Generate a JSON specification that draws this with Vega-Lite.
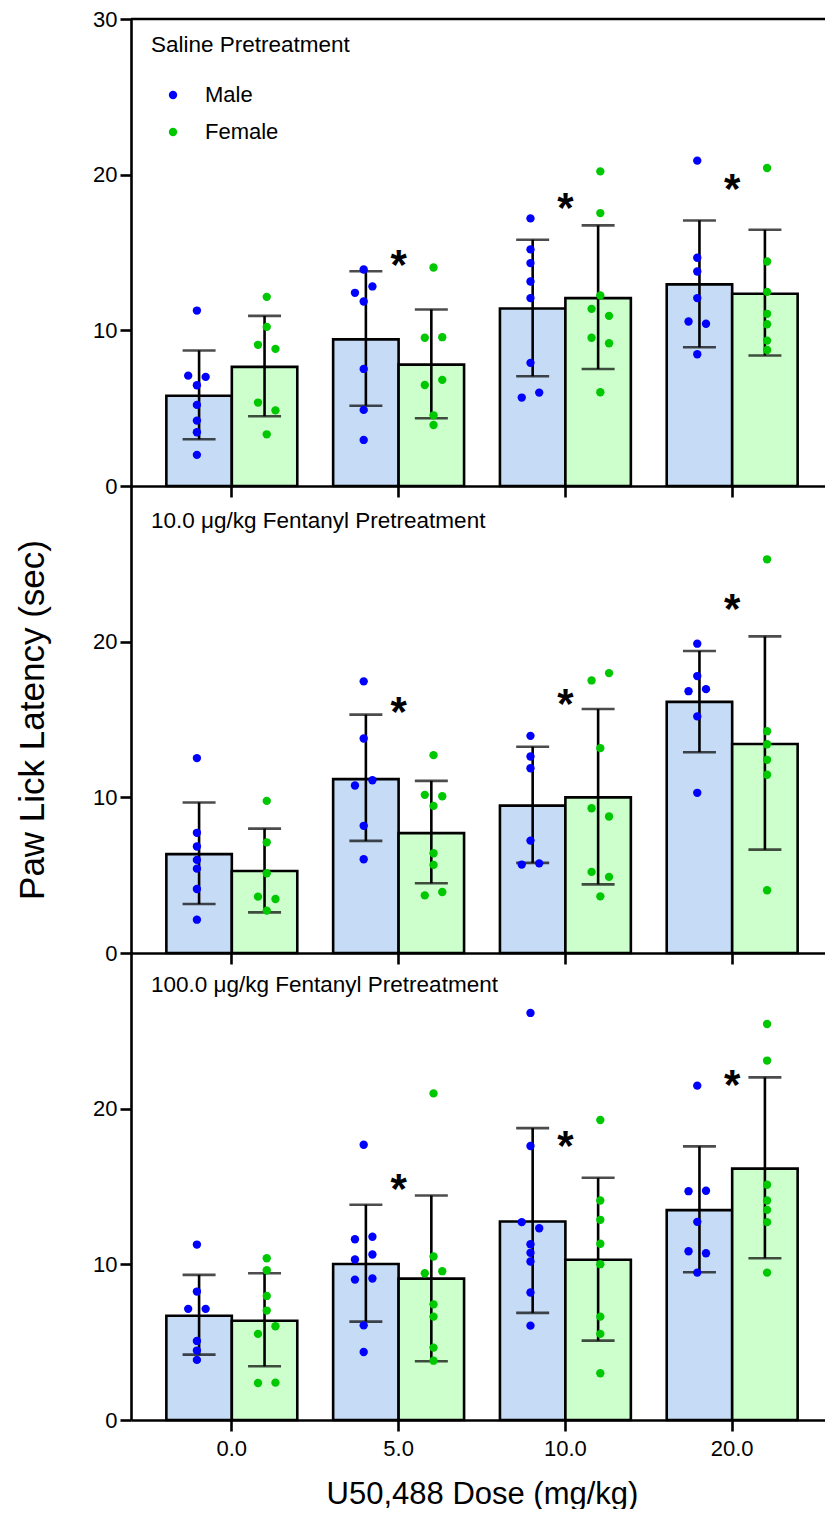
{
  "$schema": "https://vega.github.io/schema/vega-lite/v6.json",
  "background": "white",
  "padding": {"left": 15, "top": 8, "right": 0, "bottom": 0},
  "spacing": 0,
  "bounds": "flush",
  "config": {
    "font": "Liberation Sans",
    "view": {"stroke": null},
    "axis": {"domainColor": "black", "domainWidth": 2.6, "tickColor": "black", "tickWidth": 2.6, "tickSize": 11, "labelFontSize": 22, "labelColor": "black", "grid": false, "labelFont": "Liberation Sans", "titleFont": "Liberation Sans", "titleFontWeight": "normal", "titleColor": "black", "labelPadding": 3},
    "legend": {"labelFontSize": 22, "labelColor": "black", "labelFont": "Liberation Sans", "symbolType": "circle", "symbolSize": 70, "symbolStrokeWidth": 0, "labelOffset": 21, "rowPadding": 15},
    "title": {"font": "Liberation Sans", "fontWeight": "normal", "color": "black", "fontSize": 22.5, "anchor": "start", "frame": "group", "dx": 20}
  },
  "datasets": {
    "bars": [
      {"panel": "Saline", "dose": "0.0", "sex": "Male", "mean": 5.8, "lo": 3.0, "hi": 8.7},
      {"panel": "Saline", "dose": "0.0", "sex": "Female", "mean": 7.65, "lo": 4.48, "hi": 10.93},
      {"panel": "Saline", "dose": "5.0", "sex": "Male", "mean": 9.42, "lo": 5.16, "hi": 13.8},
      {"panel": "Saline", "dose": "5.0", "sex": "Female", "mean": 7.8, "lo": 4.35, "hi": 11.34},
      {"panel": "Saline", "dose": "10.0", "sex": "Male", "mean": 11.4, "lo": 7.05, "hi": 15.82},
      {"panel": "Saline", "dose": "10.0", "sex": "Female", "mean": 12.07, "lo": 7.52, "hi": 16.74},
      {"panel": "Saline", "dose": "20.0", "sex": "Male", "mean": 12.95, "lo": 8.91, "hi": 17.06},
      {"panel": "Saline", "dose": "20.0", "sex": "Female", "mean": 12.35, "lo": 8.38, "hi": 16.46},
      {"panel": "Fent10", "dose": "0.0", "sex": "Male", "mean": 6.35, "lo": 3.15, "hi": 9.67},
      {"panel": "Fent10", "dose": "0.0", "sex": "Female", "mean": 5.27, "lo": 2.61, "hi": 7.99},
      {"panel": "Fent10", "dose": "5.0", "sex": "Male", "mean": 11.17, "lo": 7.2, "hi": 15.31},
      {"panel": "Fent10", "dose": "5.0", "sex": "Female", "mean": 7.7, "lo": 4.48, "hi": 11.06},
      {"panel": "Fent10", "dose": "10.0", "sex": "Male", "mean": 9.47, "lo": 5.79, "hi": 13.25},
      {"panel": "Fent10", "dose": "10.0", "sex": "Female", "mean": 10.0, "lo": 4.41, "hi": 15.67},
      {"panel": "Fent10", "dose": "20.0", "sex": "Male", "mean": 16.13, "lo": 12.9, "hi": 19.4},
      {"panel": "Fent10", "dose": "20.0", "sex": "Female", "mean": 13.43, "lo": 6.64, "hi": 20.34},
      {"panel": "Fent100", "dose": "0.0", "sex": "Male", "mean": 6.7, "lo": 4.2, "hi": 9.32},
      {"panel": "Fent100", "dose": "0.0", "sex": "Female", "mean": 6.38, "lo": 3.45, "hi": 9.43},
      {"panel": "Fent100", "dose": "5.0", "sex": "Male", "mean": 10.02, "lo": 6.32, "hi": 13.83},
      {"panel": "Fent100", "dose": "5.0", "sex": "Female", "mean": 9.08, "lo": 3.77, "hi": 14.42},
      {"panel": "Fent100", "dose": "10.0", "sex": "Male", "mean": 12.75, "lo": 6.88, "hi": 18.75},
      {"panel": "Fent100", "dose": "10.0", "sex": "Female", "mean": 10.29, "lo": 5.1, "hi": 15.56},
      {"panel": "Fent100", "dose": "20.0", "sex": "Male", "mean": 13.48, "lo": 9.49, "hi": 17.58},
      {"panel": "Fent100", "dose": "20.0", "sex": "Female", "mean": 16.15, "lo": 10.39, "hi": 22.01}
    ],
    "points": [
      {"panel": "Saline", "dose": "0.0", "sex": "Male", "lane": "MC", "value": 11.27},
      {"panel": "Saline", "dose": "0.0", "sex": "Male", "lane": "ML", "value": 7.09},
      {"panel": "Saline", "dose": "0.0", "sex": "Male", "lane": "MR", "value": 7.01},
      {"panel": "Saline", "dose": "0.0", "sex": "Male", "lane": "MC", "value": 6.47},
      {"panel": "Saline", "dose": "0.0", "sex": "Male", "lane": "MC", "value": 5.21},
      {"panel": "Saline", "dose": "0.0", "sex": "Male", "lane": "MC", "value": 4.2},
      {"panel": "Saline", "dose": "0.0", "sex": "Male", "lane": "MC", "value": 3.45},
      {"panel": "Saline", "dose": "0.0", "sex": "Male", "lane": "MC", "value": 2.0},
      {"panel": "Saline", "dose": "0.0", "sex": "Female", "lane": "FC", "value": 12.15},
      {"panel": "Saline", "dose": "0.0", "sex": "Female", "lane": "FC", "value": 10.22},
      {"panel": "Saline", "dose": "0.0", "sex": "Female", "lane": "FL", "value": 9.07},
      {"panel": "Saline", "dose": "0.0", "sex": "Female", "lane": "FR", "value": 8.81},
      {"panel": "Saline", "dose": "0.0", "sex": "Female", "lane": "FL", "value": 5.36},
      {"panel": "Saline", "dose": "0.0", "sex": "Female", "lane": "FR", "value": 4.86},
      {"panel": "Saline", "dose": "0.0", "sex": "Female", "lane": "FC", "value": 3.32},
      {"panel": "Saline", "dose": "5.0", "sex": "Male", "lane": "MC", "value": 13.91},
      {"panel": "Saline", "dose": "5.0", "sex": "Male", "lane": "MR", "value": 12.82},
      {"panel": "Saline", "dose": "5.0", "sex": "Male", "lane": "ML", "value": 12.41},
      {"panel": "Saline", "dose": "5.0", "sex": "Male", "lane": "MC", "value": 11.85},
      {"panel": "Saline", "dose": "5.0", "sex": "Male", "lane": "MC", "value": 7.52},
      {"panel": "Saline", "dose": "5.0", "sex": "Male", "lane": "MC", "value": 4.89},
      {"panel": "Saline", "dose": "5.0", "sex": "Male", "lane": "MC", "value": 2.96},
      {"panel": "Saline", "dose": "5.0", "sex": "Female", "lane": "FC", "value": 14.04},
      {"panel": "Saline", "dose": "5.0", "sex": "Female", "lane": "FL", "value": 9.52},
      {"panel": "Saline", "dose": "5.0", "sex": "Female", "lane": "FR", "value": 9.56},
      {"panel": "Saline", "dose": "5.0", "sex": "Female", "lane": "FL", "value": 6.49},
      {"panel": "Saline", "dose": "5.0", "sex": "Female", "lane": "FR", "value": 6.82},
      {"panel": "Saline", "dose": "5.0", "sex": "Female", "lane": "FC", "value": 4.54},
      {"panel": "Saline", "dose": "5.0", "sex": "Female", "lane": "FC", "value": 3.92},
      {"panel": "Saline", "dose": "10.0", "sex": "Male", "lane": "MC", "value": 17.19},
      {"panel": "Saline", "dose": "10.0", "sex": "Male", "lane": "MC", "value": 15.2},
      {"panel": "Saline", "dose": "10.0", "sex": "Male", "lane": "MC", "value": 14.32},
      {"panel": "Saline", "dose": "10.0", "sex": "Male", "lane": "MC", "value": 13.14},
      {"panel": "Saline", "dose": "10.0", "sex": "Male", "lane": "MC", "value": 12.07},
      {"panel": "Saline", "dose": "10.0", "sex": "Male", "lane": "MC", "value": 7.91},
      {"panel": "Saline", "dose": "10.0", "sex": "Male", "lane": "MR", "value": 6.0},
      {"panel": "Saline", "dose": "10.0", "sex": "Male", "lane": "ML", "value": 5.68},
      {"panel": "Saline", "dose": "10.0", "sex": "Female", "lane": "FC", "value": 20.21},
      {"panel": "Saline", "dose": "10.0", "sex": "Female", "lane": "FC", "value": 17.53},
      {"panel": "Saline", "dose": "10.0", "sex": "Female", "lane": "FC", "value": 12.24},
      {"panel": "Saline", "dose": "10.0", "sex": "Female", "lane": "FL", "value": 11.38},
      {"panel": "Saline", "dose": "10.0", "sex": "Female", "lane": "FR", "value": 10.93},
      {"panel": "Saline", "dose": "10.0", "sex": "Female", "lane": "FL", "value": 9.52},
      {"panel": "Saline", "dose": "10.0", "sex": "Female", "lane": "FR", "value": 9.17},
      {"panel": "Saline", "dose": "10.0", "sex": "Female", "lane": "FC", "value": 6.02},
      {"panel": "Saline", "dose": "20.0", "sex": "Male", "lane": "MC", "value": 20.9},
      {"panel": "Saline", "dose": "20.0", "sex": "Male", "lane": "MC", "value": 14.66},
      {"panel": "Saline", "dose": "20.0", "sex": "Male", "lane": "MC", "value": 13.78},
      {"panel": "Saline", "dose": "20.0", "sex": "Male", "lane": "MC", "value": 12.07},
      {"panel": "Saline", "dose": "20.0", "sex": "Male", "lane": "ML", "value": 10.57},
      {"panel": "Saline", "dose": "20.0", "sex": "Male", "lane": "MR", "value": 10.42},
      {"panel": "Saline", "dose": "20.0", "sex": "Male", "lane": "MC", "value": 8.46},
      {"panel": "Saline", "dose": "20.0", "sex": "Female", "lane": "FC", "value": 20.43},
      {"panel": "Saline", "dose": "20.0", "sex": "Female", "lane": "FC", "value": 14.42},
      {"panel": "Saline", "dose": "20.0", "sex": "Female", "lane": "FC", "value": 12.47},
      {"panel": "Saline", "dose": "20.0", "sex": "Female", "lane": "FC", "value": 11.06},
      {"panel": "Saline", "dose": "20.0", "sex": "Female", "lane": "FC", "value": 10.39},
      {"panel": "Saline", "dose": "20.0", "sex": "Female", "lane": "FC", "value": 9.34},
      {"panel": "Saline", "dose": "20.0", "sex": "Female", "lane": "FC", "value": 8.74},
      {"panel": "Fent10", "dose": "0.0", "sex": "Male", "lane": "MC", "value": 12.52},
      {"panel": "Fent10", "dose": "0.0", "sex": "Male", "lane": "MC", "value": 7.72},
      {"panel": "Fent10", "dose": "0.0", "sex": "Male", "lane": "MC", "value": 6.84},
      {"panel": "Fent10", "dose": "0.0", "sex": "Male", "lane": "MC", "value": 5.98},
      {"panel": "Fent10", "dose": "0.0", "sex": "Male", "lane": "MC", "value": 5.42},
      {"panel": "Fent10", "dose": "0.0", "sex": "Male", "lane": "MC", "value": 4.11},
      {"panel": "Fent10", "dose": "0.0", "sex": "Male", "lane": "MC", "value": 2.14},
      {"panel": "Fent10", "dose": "0.0", "sex": "Female", "lane": "FC", "value": 9.77},
      {"panel": "Fent10", "dose": "0.0", "sex": "Female", "lane": "FC", "value": 7.11},
      {"panel": "Fent10", "dose": "0.0", "sex": "Female", "lane": "FC", "value": 5.12},
      {"panel": "Fent10", "dose": "0.0", "sex": "Female", "lane": "FL", "value": 3.62},
      {"panel": "Fent10", "dose": "0.0", "sex": "Female", "lane": "FR", "value": 3.47},
      {"panel": "Fent10", "dose": "0.0", "sex": "Female", "lane": "FC", "value": 2.72},
      {"panel": "Fent10", "dose": "5.0", "sex": "Male", "lane": "MC", "value": 17.45},
      {"panel": "Fent10", "dose": "5.0", "sex": "Male", "lane": "MC", "value": 13.78},
      {"panel": "Fent10", "dose": "5.0", "sex": "Male", "lane": "MR", "value": 11.1},
      {"panel": "Fent10", "dose": "5.0", "sex": "Male", "lane": "ML", "value": 10.76},
      {"panel": "Fent10", "dose": "5.0", "sex": "Male", "lane": "MC", "value": 8.17},
      {"panel": "Fent10", "dose": "5.0", "sex": "Male", "lane": "MC", "value": 6.02},
      {"panel": "Fent10", "dose": "5.0", "sex": "Female", "lane": "FC", "value": 12.71},
      {"panel": "Fent10", "dose": "5.0", "sex": "Female", "lane": "FL", "value": 10.16},
      {"panel": "Fent10", "dose": "5.0", "sex": "Female", "lane": "FR", "value": 10.07},
      {"panel": "Fent10", "dose": "5.0", "sex": "Female", "lane": "FC", "value": 9.45},
      {"panel": "Fent10", "dose": "5.0", "sex": "Female", "lane": "FC", "value": 6.41},
      {"panel": "Fent10", "dose": "5.0", "sex": "Female", "lane": "FC", "value": 5.66},
      {"panel": "Fent10", "dose": "5.0", "sex": "Female", "lane": "FL", "value": 3.7},
      {"panel": "Fent10", "dose": "5.0", "sex": "Female", "lane": "FR", "value": 3.92},
      {"panel": "Fent10", "dose": "10.0", "sex": "Male", "lane": "MC", "value": 13.95},
      {"panel": "Fent10", "dose": "10.0", "sex": "Male", "lane": "MC", "value": 12.62},
      {"panel": "Fent10", "dose": "10.0", "sex": "Male", "lane": "MC", "value": 11.87},
      {"panel": "Fent10", "dose": "10.0", "sex": "Male", "lane": "MC", "value": 7.22},
      {"panel": "Fent10", "dose": "10.0", "sex": "Male", "lane": "ML", "value": 5.68},
      {"panel": "Fent10", "dose": "10.0", "sex": "Male", "lane": "MR", "value": 5.76},
      {"panel": "Fent10", "dose": "10.0", "sex": "Female", "lane": "FL", "value": 17.51},
      {"panel": "Fent10", "dose": "10.0", "sex": "Female", "lane": "FR", "value": 17.98},
      {"panel": "Fent10", "dose": "10.0", "sex": "Female", "lane": "FC", "value": 13.16},
      {"panel": "Fent10", "dose": "10.0", "sex": "Female", "lane": "FL", "value": 9.3},
      {"panel": "Fent10", "dose": "10.0", "sex": "Female", "lane": "FR", "value": 8.77},
      {"panel": "Fent10", "dose": "10.0", "sex": "Female", "lane": "FL", "value": 5.21},
      {"panel": "Fent10", "dose": "10.0", "sex": "Female", "lane": "FR", "value": 4.89},
      {"panel": "Fent10", "dose": "10.0", "sex": "Female", "lane": "FC", "value": 3.64},
      {"panel": "Fent10", "dose": "20.0", "sex": "Male", "lane": "MC", "value": 19.87},
      {"panel": "Fent10", "dose": "20.0", "sex": "Male", "lane": "MC", "value": 17.79},
      {"panel": "Fent10", "dose": "20.0", "sex": "Male", "lane": "ML", "value": 16.82},
      {"panel": "Fent10", "dose": "20.0", "sex": "Male", "lane": "MR", "value": 16.95},
      {"panel": "Fent10", "dose": "20.0", "sex": "Male", "lane": "MC", "value": 15.2},
      {"panel": "Fent10", "dose": "20.0", "sex": "Male", "lane": "MC", "value": 10.29},
      {"panel": "Fent10", "dose": "20.0", "sex": "Female", "lane": "FC", "value": 25.29},
      {"panel": "Fent10", "dose": "20.0", "sex": "Female", "lane": "FC", "value": 14.25},
      {"panel": "Fent10", "dose": "20.0", "sex": "Female", "lane": "FC", "value": 13.41},
      {"panel": "Fent10", "dose": "20.0", "sex": "Female", "lane": "FC", "value": 12.41},
      {"panel": "Fent10", "dose": "20.0", "sex": "Female", "lane": "FC", "value": 11.45},
      {"panel": "Fent10", "dose": "20.0", "sex": "Female", "lane": "FC", "value": 4.03},
      {"panel": "Fent100", "dose": "0.0", "sex": "Male", "lane": "MC", "value": 11.27},
      {"panel": "Fent100", "dose": "0.0", "sex": "Male", "lane": "MC", "value": 8.25},
      {"panel": "Fent100", "dose": "0.0", "sex": "Male", "lane": "ML", "value": 7.14},
      {"panel": "Fent100", "dose": "0.0", "sex": "Male", "lane": "MR", "value": 7.14},
      {"panel": "Fent100", "dose": "0.0", "sex": "Male", "lane": "MC", "value": 5.08},
      {"panel": "Fent100", "dose": "0.0", "sex": "Male", "lane": "MC", "value": 4.46},
      {"panel": "Fent100", "dose": "0.0", "sex": "Male", "lane": "MC", "value": 3.86},
      {"panel": "Fent100", "dose": "0.0", "sex": "Female", "lane": "FC", "value": 10.39},
      {"panel": "Fent100", "dose": "0.0", "sex": "Female", "lane": "FC", "value": 9.62},
      {"panel": "Fent100", "dose": "0.0", "sex": "Female", "lane": "FC", "value": 7.97},
      {"panel": "Fent100", "dose": "0.0", "sex": "Female", "lane": "FC", "value": 7.03},
      {"panel": "Fent100", "dose": "0.0", "sex": "Female", "lane": "FR", "value": 6.02},
      {"panel": "Fent100", "dose": "0.0", "sex": "Female", "lane": "FL", "value": 5.53},
      {"panel": "Fent100", "dose": "0.0", "sex": "Female", "lane": "FL", "value": 2.38},
      {"panel": "Fent100", "dose": "0.0", "sex": "Female", "lane": "FR", "value": 2.4},
      {"panel": "Fent100", "dose": "5.0", "sex": "Male", "lane": "MC", "value": 17.68},
      {"panel": "Fent100", "dose": "5.0", "sex": "Male", "lane": "ML", "value": 11.61},
      {"panel": "Fent100", "dose": "5.0", "sex": "Male", "lane": "MR", "value": 11.77},
      {"panel": "Fent100", "dose": "5.0", "sex": "Male", "lane": "MR", "value": 10.63},
      {"panel": "Fent100", "dose": "5.0", "sex": "Male", "lane": "ML", "value": 10.31},
      {"panel": "Fent100", "dose": "5.0", "sex": "Male", "lane": "ML", "value": 9.02},
      {"panel": "Fent100", "dose": "5.0", "sex": "Male", "lane": "MR", "value": 9.09},
      {"panel": "Fent100", "dose": "5.0", "sex": "Male", "lane": "MC", "value": 6.08},
      {"panel": "Fent100", "dose": "5.0", "sex": "Male", "lane": "MC", "value": 4.37},
      {"panel": "Fent100", "dose": "5.0", "sex": "Female", "lane": "FC", "value": 20.98},
      {"panel": "Fent100", "dose": "5.0", "sex": "Female", "lane": "FC", "value": 10.5},
      {"panel": "Fent100", "dose": "5.0", "sex": "Female", "lane": "FL", "value": 9.43},
      {"panel": "Fent100", "dose": "5.0", "sex": "Female", "lane": "FR", "value": 9.56},
      {"panel": "Fent100", "dose": "5.0", "sex": "Female", "lane": "FC", "value": 7.43},
      {"panel": "Fent100", "dose": "5.0", "sex": "Female", "lane": "FC", "value": 6.64},
      {"panel": "Fent100", "dose": "5.0", "sex": "Female", "lane": "FC", "value": 4.65},
      {"panel": "Fent100", "dose": "5.0", "sex": "Female", "lane": "FC", "value": 3.81},
      {"panel": "Fent100", "dose": "10.0", "sex": "Male", "lane": "MC", "value": 26.15},
      {"panel": "Fent100", "dose": "10.0", "sex": "Male", "lane": "MC", "value": 17.6},
      {"panel": "Fent100", "dose": "10.0", "sex": "Male", "lane": "ML", "value": 12.71},
      {"panel": "Fent100", "dose": "10.0", "sex": "Male", "lane": "MR", "value": 12.32},
      {"panel": "Fent100", "dose": "10.0", "sex": "Male", "lane": "MC", "value": 11.29},
      {"panel": "Fent100", "dose": "10.0", "sex": "Male", "lane": "MC", "value": 10.74},
      {"panel": "Fent100", "dose": "10.0", "sex": "Male", "lane": "MC", "value": 10.18},
      {"panel": "Fent100", "dose": "10.0", "sex": "Male", "lane": "MC", "value": 8.19},
      {"panel": "Fent100", "dose": "10.0", "sex": "Male", "lane": "MC", "value": 6.06},
      {"panel": "Fent100", "dose": "10.0", "sex": "Female", "lane": "FC", "value": 19.27},
      {"panel": "Fent100", "dose": "10.0", "sex": "Female", "lane": "FC", "value": 14.1},
      {"panel": "Fent100", "dose": "10.0", "sex": "Female", "lane": "FC", "value": 12.86},
      {"panel": "Fent100", "dose": "10.0", "sex": "Female", "lane": "FC", "value": 11.32},
      {"panel": "Fent100", "dose": "10.0", "sex": "Female", "lane": "FC", "value": 10.01},
      {"panel": "Fent100", "dose": "10.0", "sex": "Female", "lane": "FC", "value": 6.64},
      {"panel": "Fent100", "dose": "10.0", "sex": "Female", "lane": "FC", "value": 5.53},
      {"panel": "Fent100", "dose": "10.0", "sex": "Female", "lane": "FC", "value": 3.0},
      {"panel": "Fent100", "dose": "20.0", "sex": "Male", "lane": "MC", "value": 21.48},
      {"panel": "Fent100", "dose": "20.0", "sex": "Male", "lane": "ML", "value": 14.7},
      {"panel": "Fent100", "dose": "20.0", "sex": "Male", "lane": "MR", "value": 14.73},
      {"panel": "Fent100", "dose": "20.0", "sex": "Male", "lane": "MC", "value": 12.73},
      {"panel": "Fent100", "dose": "20.0", "sex": "Male", "lane": "ML", "value": 10.84},
      {"panel": "Fent100", "dose": "20.0", "sex": "Male", "lane": "MR", "value": 10.71},
      {"panel": "Fent100", "dose": "20.0", "sex": "Male", "lane": "MC", "value": 9.47},
      {"panel": "Fent100", "dose": "20.0", "sex": "Female", "lane": "FC", "value": 25.44},
      {"panel": "Fent100", "dose": "20.0", "sex": "Female", "lane": "FC", "value": 23.09},
      {"panel": "Fent100", "dose": "20.0", "sex": "Female", "lane": "FC", "value": 15.11},
      {"panel": "Fent100", "dose": "20.0", "sex": "Female", "lane": "FC", "value": 14.1},
      {"panel": "Fent100", "dose": "20.0", "sex": "Female", "lane": "FC", "value": 13.5},
      {"panel": "Fent100", "dose": "20.0", "sex": "Female", "lane": "FC", "value": 12.71},
      {"panel": "Fent100", "dose": "20.0", "sex": "Female", "lane": "FC", "value": 9.47}
    ],
    "stars": [
      {"panel": "Saline", "dose": "5.0", "value": 14.6},
      {"panel": "Saline", "dose": "10.0", "value": 18.24},
      {"panel": "Saline", "dose": "20.0", "value": 19.46},
      {"panel": "Fent10", "dose": "5.0", "value": 15.84},
      {"panel": "Fent10", "dose": "10.0", "value": 16.35},
      {"panel": "Fent10", "dose": "20.0", "value": 22.51},
      {"panel": "Fent100", "dose": "5.0", "value": 15.22},
      {"panel": "Fent100", "dose": "10.0", "value": 17.96},
      {"panel": "Fent100", "dose": "20.0", "value": 21.93}
    ]
  },
  "vconcat": [
    {
      "width": 702, "height": 467,
      "title": {"text": "Saline Pretreatment", "offset": -48},
      "resolve": {"scale": {"xOffset": "independent"}},
      "layer": [
        {"data": {"values": [{"top": 30}]}, "mark": {"type": "rule", "color": "black", "strokeWidth": 2.6}, "encoding": {"y": {"field": "top", "type": "quantitative", "title": null, "scale": {"domain": [0, 30], "nice": false}}}},
        {"data": {"name": "bars"}, "transform": [{"filter": "datum.panel === 'Saline'"}], "mark": {"type": "bar", "stroke": "black", "strokeWidth": 2.6},
         "encoding": {
           "x": {"field": "dose", "type": "nominal", "sort": ["0.0", "5.0", "10.0", "20.0"], "scale": {"paddingInner": 0.215, "paddingOuter": 0.212}, "axis": {"labels": false, "title": null}},
           "xOffset": {"field": "sex", "type": "nominal", "sort": ["Male", "Female"], "scale": {"paddingInner": 0, "paddingOuter": 0}},
           "y": {"field": "mean", "type": "quantitative", "title": null, "scale": {"domain": [0, 30], "nice": false}, "axis": {"values": [0, 10, 20, 30]}},
           "fill": {"condition": {"test": "datum.sex === 'Female'", "value": "#ccffcc"}, "value": "#c6dbf5"}}},
        {"data": {"name": "bars"}, "transform": [{"filter": "datum.panel === 'Saline'"}], "mark": {"type": "rule", "color": "black", "strokeWidth": 2.6},
         "encoding": {
           "x": {"field": "dose", "type": "nominal", "sort": ["0.0", "5.0", "10.0", "20.0"]},
           "xOffset": {"field": "sex", "type": "nominal", "sort": ["Male", "Female"], "scale": {"paddingInner": 0, "paddingOuter": 0}},
           "y": {"field": "lo", "type": "quantitative", "title": null}, "y2": {"field": "hi"}}},
        {"data": {"name": "bars"}, "transform": [{"filter": "datum.panel === 'Saline'"}], "mark": {"type": "tick", "color": "black", "size": 33, "thickness": 2.6},
         "encoding": {
           "x": {"field": "dose", "type": "nominal", "sort": ["0.0", "5.0", "10.0", "20.0"]},
           "xOffset": {"field": "sex", "type": "nominal", "sort": ["Male", "Female"], "scale": {"paddingInner": 0, "paddingOuter": 0}},
           "y": {"field": "lo", "type": "quantitative", "title": null}}},
        {"data": {"name": "bars"}, "transform": [{"filter": "datum.panel === 'Saline'"}], "mark": {"type": "tick", "color": "black", "size": 33, "thickness": 2.6},
         "encoding": {
           "x": {"field": "dose", "type": "nominal", "sort": ["0.0", "5.0", "10.0", "20.0"]},
           "xOffset": {"field": "sex", "type": "nominal", "sort": ["Male", "Female"], "scale": {"paddingInner": 0, "paddingOuter": 0}},
           "y": {"field": "hi", "type": "quantitative", "title": null}}},
        {"data": {"name": "points"}, "transform": [{"filter": "datum.panel === 'Saline'"}], "mark": {"type": "circle", "size": 70, "opacity": 1},
         "encoding": {
           "x": {"field": "dose", "type": "nominal", "sort": ["0.0", "5.0", "10.0", "20.0"]},
           "xOffset": {"field": "lane", "type": "nominal", "scale": {"domain": ["s0", "s1", "ML", "MC", "MR", "s5", "s6", "s7", "s8", "s9", "FL", "FC", "FR", "s13", "s14"], "paddingInner": 0, "paddingOuter": 0.5}},
           "y": {"field": "value", "type": "quantitative", "title": null},
           "color": {"field": "sex", "type": "nominal", "scale": {"domain": ["Male", "Female"], "range": ["#0000ff", "#00c800"]},
             "legend": {"title": null, "orient": "none", "legendX": 31, "legendY": 65}}}},
        {"data": {"name": "stars"}, "transform": [{"filter": "datum.panel === 'Saline'"}], "mark": {"type": "text", "text": "*", "fontSize": 42, "fontWeight": "bold", "baseline": "alphabetic", "dy": 20, "color": "black"},
         "encoding": {
           "x": {"field": "dose", "type": "nominal", "sort": ["0.0", "5.0", "10.0", "20.0"]},
           "y": {"field": "value", "type": "quantitative", "title": null}}}
      ]
    },
    {
      "width": 702, "height": 467,
      "title": {"text": "10.0 μg/kg Fentanyl Pretreatment", "offset": -46},
      "resolve": {"scale": {"xOffset": "independent"}},
      "layer": [
        {"data": {"name": "bars"}, "transform": [{"filter": "datum.panel === 'Fent10'"}], "mark": {"type": "bar", "stroke": "black", "strokeWidth": 2.6},
         "encoding": {
           "x": {"field": "dose", "type": "nominal", "sort": ["0.0", "5.0", "10.0", "20.0"], "scale": {"paddingInner": 0.215, "paddingOuter": 0.212}, "axis": {"labels": false, "title": null}},
           "xOffset": {"field": "sex", "type": "nominal", "sort": ["Male", "Female"], "scale": {"paddingInner": 0, "paddingOuter": 0}},
           "y": {"field": "mean", "type": "quantitative", "title": "Paw Lick Latency (sec)", "scale": {"domain": [0, 30], "nice": false}, "axis": {"values": [0, 10, 20], "titleFontSize": 35, "titlePadding": 42}},
           "fill": {"condition": {"test": "datum.sex === 'Female'", "value": "#ccffcc"}, "value": "#c6dbf5"}}},
        {"data": {"name": "bars"}, "transform": [{"filter": "datum.panel === 'Fent10'"}], "mark": {"type": "rule", "color": "black", "strokeWidth": 2.6},
         "encoding": {
           "x": {"field": "dose", "type": "nominal", "sort": ["0.0", "5.0", "10.0", "20.0"]},
           "xOffset": {"field": "sex", "type": "nominal", "sort": ["Male", "Female"], "scale": {"paddingInner": 0, "paddingOuter": 0}},
           "y": {"field": "lo", "type": "quantitative", "title": "Paw Lick Latency (sec)"}, "y2": {"field": "hi"}}},
        {"data": {"name": "bars"}, "transform": [{"filter": "datum.panel === 'Fent10'"}], "mark": {"type": "tick", "color": "black", "size": 33, "thickness": 2.6},
         "encoding": {
           "x": {"field": "dose", "type": "nominal", "sort": ["0.0", "5.0", "10.0", "20.0"]},
           "xOffset": {"field": "sex", "type": "nominal", "sort": ["Male", "Female"], "scale": {"paddingInner": 0, "paddingOuter": 0}},
           "y": {"field": "lo", "type": "quantitative", "title": "Paw Lick Latency (sec)"}}},
        {"data": {"name": "bars"}, "transform": [{"filter": "datum.panel === 'Fent10'"}], "mark": {"type": "tick", "color": "black", "size": 33, "thickness": 2.6},
         "encoding": {
           "x": {"field": "dose", "type": "nominal", "sort": ["0.0", "5.0", "10.0", "20.0"]},
           "xOffset": {"field": "sex", "type": "nominal", "sort": ["Male", "Female"], "scale": {"paddingInner": 0, "paddingOuter": 0}},
           "y": {"field": "hi", "type": "quantitative", "title": "Paw Lick Latency (sec)"}}},
        {"data": {"name": "points"}, "transform": [{"filter": "datum.panel === 'Fent10'"}], "mark": {"type": "circle", "size": 70, "opacity": 1},
         "encoding": {
           "x": {"field": "dose", "type": "nominal", "sort": ["0.0", "5.0", "10.0", "20.0"]},
           "xOffset": {"field": "lane", "type": "nominal", "scale": {"domain": ["s0", "s1", "ML", "MC", "MR", "s5", "s6", "s7", "s8", "s9", "FL", "FC", "FR", "s13", "s14"], "paddingInner": 0, "paddingOuter": 0.5}},
           "y": {"field": "value", "type": "quantitative", "title": "Paw Lick Latency (sec)"},
           "color": {"condition": {"test": "datum.sex === 'Female'", "value": "#00c800"}, "value": "#0000ff"}}},
        {"data": {"name": "stars"}, "transform": [{"filter": "datum.panel === 'Fent10'"}], "mark": {"type": "text", "text": "*", "fontSize": 42, "fontWeight": "bold", "baseline": "alphabetic", "dy": 20, "color": "black"},
         "encoding": {
           "x": {"field": "dose", "type": "nominal", "sort": ["0.0", "5.0", "10.0", "20.0"]},
           "y": {"field": "value", "type": "quantitative", "title": "Paw Lick Latency (sec)"}}}
      ]
    },
    {
      "width": 702, "height": 467,
      "title": {"text": "100.0 μg/kg Fentanyl Pretreatment", "offset": -43},
      "resolve": {"scale": {"xOffset": "independent"}},
      "layer": [
        {"data": {"name": "bars"}, "transform": [{"filter": "datum.panel === 'Fent100'"}], "mark": {"type": "bar", "stroke": "black", "strokeWidth": 2.6},
         "encoding": {
           "x": {"field": "dose", "type": "nominal", "sort": ["0.0", "5.0", "10.0", "20.0"], "scale": {"paddingInner": 0.215, "paddingOuter": 0.212}, "axis": {"labelAngle": 0, "labelPadding": 7, "title": "U50,488 Dose (mg/kg)", "titleFontSize": 31, "titlePadding": 20}},
           "xOffset": {"field": "sex", "type": "nominal", "sort": ["Male", "Female"], "scale": {"paddingInner": 0, "paddingOuter": 0}},
           "y": {"field": "mean", "type": "quantitative", "title": null, "scale": {"domain": [0, 30], "nice": false}, "axis": {"values": [0, 10, 20]}},
           "fill": {"condition": {"test": "datum.sex === 'Female'", "value": "#ccffcc"}, "value": "#c6dbf5"}}},
        {"data": {"name": "bars"}, "transform": [{"filter": "datum.panel === 'Fent100'"}], "mark": {"type": "rule", "color": "black", "strokeWidth": 2.6},
         "encoding": {
           "x": {"field": "dose", "type": "nominal", "sort": ["0.0", "5.0", "10.0", "20.0"], "title": "U50,488 Dose (mg/kg)"},
           "xOffset": {"field": "sex", "type": "nominal", "sort": ["Male", "Female"], "scale": {"paddingInner": 0, "paddingOuter": 0}},
           "y": {"field": "lo", "type": "quantitative", "title": null}, "y2": {"field": "hi"}}},
        {"data": {"name": "bars"}, "transform": [{"filter": "datum.panel === 'Fent100'"}], "mark": {"type": "tick", "color": "black", "size": 33, "thickness": 2.6},
         "encoding": {
           "x": {"field": "dose", "type": "nominal", "sort": ["0.0", "5.0", "10.0", "20.0"], "title": "U50,488 Dose (mg/kg)"},
           "xOffset": {"field": "sex", "type": "nominal", "sort": ["Male", "Female"], "scale": {"paddingInner": 0, "paddingOuter": 0}},
           "y": {"field": "lo", "type": "quantitative", "title": null}}},
        {"data": {"name": "bars"}, "transform": [{"filter": "datum.panel === 'Fent100'"}], "mark": {"type": "tick", "color": "black", "size": 33, "thickness": 2.6},
         "encoding": {
           "x": {"field": "dose", "type": "nominal", "sort": ["0.0", "5.0", "10.0", "20.0"], "title": "U50,488 Dose (mg/kg)"},
           "xOffset": {"field": "sex", "type": "nominal", "sort": ["Male", "Female"], "scale": {"paddingInner": 0, "paddingOuter": 0}},
           "y": {"field": "hi", "type": "quantitative", "title": null}}},
        {"data": {"name": "points"}, "transform": [{"filter": "datum.panel === 'Fent100'"}], "mark": {"type": "circle", "size": 70, "opacity": 1},
         "encoding": {
           "x": {"field": "dose", "type": "nominal", "sort": ["0.0", "5.0", "10.0", "20.0"], "title": "U50,488 Dose (mg/kg)"},
           "xOffset": {"field": "lane", "type": "nominal", "scale": {"domain": ["s0", "s1", "ML", "MC", "MR", "s5", "s6", "s7", "s8", "s9", "FL", "FC", "FR", "s13", "s14"], "paddingInner": 0, "paddingOuter": 0.5}},
           "y": {"field": "value", "type": "quantitative", "title": null},
           "color": {"condition": {"test": "datum.sex === 'Female'", "value": "#00c800"}, "value": "#0000ff"}}},
        {"data": {"name": "stars"}, "transform": [{"filter": "datum.panel === 'Fent100'"}], "mark": {"type": "text", "text": "*", "fontSize": 42, "fontWeight": "bold", "baseline": "alphabetic", "dy": 20, "color": "black"},
         "encoding": {
           "x": {"field": "dose", "type": "nominal", "sort": ["0.0", "5.0", "10.0", "20.0"], "title": "U50,488 Dose (mg/kg)"},
           "y": {"field": "value", "type": "quantitative", "title": null}}}
      ]
    }
  ]
}
